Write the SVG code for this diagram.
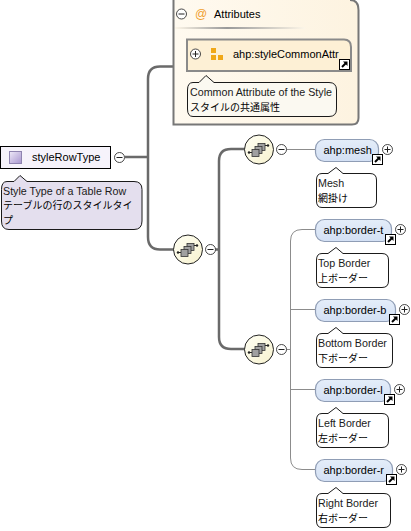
<svg xmlns="http://www.w3.org/2000/svg" width="411" height="531" viewBox="0 0 411 531">
<style>
text{font-family:"Liberation Sans",Arial,"Noto Sans CJK JP",sans-serif;font-size:11px;fill:#000}
.t{font-size:10.700px;fill:#1a1a1a}
.j{font-family:"Noto Sans CJK JP","Liberation Sans",sans-serif;font-size:10px}
.note{stroke:#1a1a1a;stroke-width:1;stroke-linejoin:round}
.pill{fill:url(#blue);stroke:#8f9db5;stroke-width:1.200}
.thick{fill:none;stroke:#6a6a6a;stroke-width:2.500}
.thin{fill:none;stroke:#8c8c8c;stroke-width:1}
.btn{fill:#fff;stroke:#333;stroke-width:.9}
.sign{fill:none;stroke:#222;stroke-width:1}
.seq{fill:url(#cream);stroke:#222;stroke-width:1}
.box{fill:#a0a0a0;stroke:#333;stroke-width:.8}
</style>
<defs>
<linearGradient id="blue" x1="0" y1="0" x2="0" y2="1"><stop offset="0" stop-color="#e4edf9"/><stop offset="1" stop-color="#d3e0f4"/></linearGradient>
<linearGradient id="cream" x1="0" y1="0" x2="1" y2="1"><stop offset="0" stop-color="#fffff4"/><stop offset="1" stop-color="#f7f2cf"/></linearGradient>
<linearGradient id="att" x1="0" y1="0" x2="1" y2="0"><stop offset="0" stop-color="#fffaf0"/><stop offset="1" stop-color="#fdf3e0"/></linearGradient>
<linearGradient id="sq" x1="0" y1="0" x2="1" y2="1"><stop offset="0" stop-color="#efeaf8"/><stop offset="1" stop-color="#a795cf"/></linearGradient>
<linearGradient id="rule" x1="0" y1="0" x2="1" y2="0"><stop offset="0" stop-color="#fdf6e8"/><stop offset=".4" stop-color="#999"/><stop offset="1" stop-color="#fdf6e8"/></linearGradient>
<g id="minus"><circle class="btn" r="5"/><path class="sign" d="M-3 0H3"/></g>
<g id="plus"><circle class="btn" r="5"/><path class="sign" d="M-3 0H3M0-3V3"/></g>
<g id="link"><rect width="10" height="10" fill="#fff" stroke="#000"/><path d="M2.500 7.500L6.500 3.500" stroke="#000" stroke-width="2"/><path d="M3.500 2H8V6.500Z" fill="#000"/></g>
<g id="seqicon">
<path d="M-10 3H-7M5-4H9" fill="none" stroke="#222" stroke-width="1"/>
<rect class="box" x="-1" y="-6" width="7" height="7"/><rect class="box" x="-4" y="-3" width="7" height="7"/><rect class="box" x="-7" y="0" width="7" height="7"/>
<circle cx="-10" cy="3" r="1.200" fill="#222"/><circle cx="9" cy="-4" r="1.200" fill="#222"/>
</g>
</defs>
<rect width="411" height="531" fill="#fff"/>
<g id="connectors">
<path class="thick" d="M125 157H148M173 66.500H160Q148 66.500 148 79V237Q148 249.500 160 249.500H174"/>
<path class="thick" d="M215 249.500H219M245 149H231Q219 149 219 161V337Q219 349 231 349H245"/>
<path class="thin" d="M286 149.500H316M286 349.500H290.500M316 229.500H302Q290.500 229.500 290.500 241V458Q290.500 469.500 302 469.500H316M290.500 309.500H316M290.500 389.500H316"/>
</g>
<g id="styleRowType">
<rect x="0.500" y="146.500" width="110" height="22" fill="#f6f3fb" stroke="#000"/>
<rect x="9.500" y="151.500" width="12" height="12" fill="url(#sq)" stroke="#8f84b0"/>
<text x="32" y="161">styleRowType</text>
<use href="#minus" x="119.500" y="157.500"/>
<path class="note" fill="#e4dfee" d="M7 181.500H14L20 175.500L27 181.500H134Q142 181.500 142 189.500V221Q142 229.500 134 229.500H9Q1.500 229.500 1.500 221V189.500Q1.500 181.500 7 181.500Z"/>
<text class="t" x="3" y="195">Style Type of a Table Row</text>
<text class="j" x="3" y="209">テーブルの行のスタイルタイ</text>
<text class="j" x="3" y="224">プ</text>
</g>
<g id="attributes">
<path d="M173.500 0V124.500H352Q358.500 124.500 358.500 118V10Q358.500 0 350 0" fill="url(#att)" stroke="#777" stroke-width="2"/>
<use href="#minus" x="181.500" y="14"/>
<text x="195" y="18" style="fill:#f0a030;font-size:12px">@</text>
<text x="214" y="18">Attributes</text>
<rect x="175" y="27" width="130" height="2" fill="url(#rule)"/>
</g>
<g id="styleCommonAttr">
<path d="M187 39.500H344Q351 39.500 351 47V71H187Z" fill="#fdf0d5" stroke="#8a8a8a" stroke-width="2"/>
<use href="#plus" x="195.500" y="54"/>
<path d="M211 48h5v5h-5zM211 55h5v5h-5zM218 55h5v5h-5z" fill="#f0a818"/>
<text x="233" y="58">ahp:styleCommonAttr</text>
<use href="#link" x="339.500" y="59.500"/>
<path class="note" fill="#fbf9f1" d="M193 82.500H199L206 75.500L214 82.500H329Q336.500 82.500 336.500 90V109Q336.500 116.500 329 116.500H193Q187.500 116.500 187.500 109V90Q187.500 82.500 193 82.500Z"/>
<text class="t" x="190" y="96">Common Attribute of the Style</text>
<text class="j" x="190" y="111">スタイルの共通属性</text>
</g>
<g id="seq0"><circle class="seq" cx="188" cy="249.500" r="14.500"/><use href="#seqicon" x="188" y="249.500"/><use href="#minus" x="210.500" y="249.500"/></g>
<g id="seq1"><circle class="seq" cx="259" cy="149.500" r="14.500"/><use href="#seqicon" x="259" y="149.500"/><use href="#minus" x="281.500" y="149.500"/></g>
<g id="seq2"><circle class="seq" cx="259" cy="349.500" r="14.500"/><use href="#seqicon" x="259" y="349.500"/><use href="#minus" x="281.500" y="349.500"/></g>
<g id="mesh">
<rect class="pill" x="315.500" y="139.500" width="63" height="22" rx="9"/>
<text x="323.500" y="154">ahp:mesh</text>
<use href="#link" x="372.500" y="154.500"/><use href="#plus" x="387.500" y="149.500"/>
<path class="note" fill="#fff" d="M322 173.500H328L336 167.500L343 173.500H370Q376.500 173.500 376.500 180V201Q376.500 207.500 370 207.500H322Q316.500 207.500 316.500 201V180Q316.500 173.500 322 173.500Z"/>
<text class="t" x="318" y="187">Mesh</text><text class="j" x="318" y="202">網掛け</text>
</g>
<g id="border-t">
<rect class="pill" x="315.500" y="219.500" width="76" height="22" rx="9"/>
<text x="323.500" y="234">ahp:border-t</text>
<use href="#link" x="385.500" y="234.500"/><use href="#plus" x="400.500" y="229.500"/>
<path class="note" fill="#fff" d="M322 253.500H328L336 247.500L343 253.500H382Q388.500 253.500 388.500 260V281Q388.500 287.500 382 287.500H322Q316.500 287.500 316.500 281V260Q316.500 253.500 322 253.500Z"/>
<text class="t" x="318" y="267">Top Border</text><text class="j" x="318" y="282">上ボーダー</text>
</g>
<g id="border-b">
<rect class="pill" x="315.500" y="299.500" width="80" height="22" rx="9"/>
<text x="323.500" y="314">ahp:border-b</text>
<use href="#link" x="389.500" y="314.500"/><use href="#plus" x="404.500" y="309.500"/>
<path class="note" fill="#fff" d="M322 333.500H328L336 327.500L343 333.500H386Q392.500 333.500 392.500 340V361Q392.500 367.500 386 367.500H322Q316.500 367.500 316.500 361V340Q316.500 333.500 322 333.500Z"/>
<text class="t" x="318" y="347">Bottom Border</text><text class="j" x="318" y="362">下ボーダー</text>
</g>
<g id="border-l">
<rect class="pill" x="315.500" y="379.500" width="75" height="22" rx="9"/>
<text x="323.500" y="394">ahp:border-l</text>
<use href="#link" x="384.500" y="394.500"/><use href="#plus" x="399.500" y="389.500"/>
<path class="note" fill="#fff" d="M322 413.500H328L336 407.500L343 413.500H382Q388.500 413.500 388.500 420V441Q388.500 447.500 382 447.500H322Q316.500 447.500 316.500 441V420Q316.500 413.500 322 413.500Z"/>
<text class="t" x="318" y="427">Left Border</text><text class="j" x="318" y="442">左ボーダー</text>
</g>
<g id="border-r">
<rect class="pill" x="315.500" y="459.500" width="77" height="22" rx="9"/>
<text x="323.500" y="474">ahp:border-r</text>
<use href="#link" x="386.500" y="474.500"/><use href="#plus" x="401.500" y="469.500"/>
<path class="note" fill="#fff" d="M322 493.500H328L336 487.500L343 493.500H384Q390.500 493.500 390.500 500V521Q390.500 527.500 384 527.500H322Q316.500 527.500 316.500 521V500Q316.500 493.500 322 493.500Z"/>
<text class="t" x="318" y="507">Right Border</text><text class="j" x="318" y="522">右ボーダー</text>
</g>
</svg>
